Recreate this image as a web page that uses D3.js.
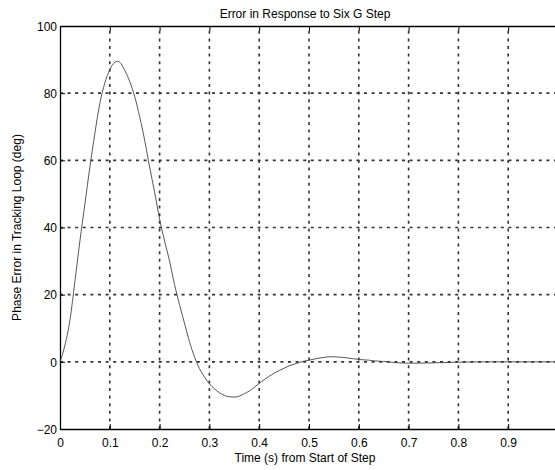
<!DOCTYPE html>
<html>
<head>
<meta charset="utf-8">
<script src="https://cdn.jsdelivr.net/npm/d3@7"></script>
<style>
html,body{margin:0;padding:0;background:#fff;}
svg{display:block;}
text{font-family:"Liberation Sans",Arial,sans-serif;fill:#000;}
</style>
</head>
<body>
<svg id="chart" width="555" height="470"></svg>
<script>
const title = "Error in Response to Six G Step";
const xLabel = "Time (s) from Start of Step";
const yLabel = "Phase Error in Tracking Loop (deg)";
const xTicks = [0, 0.1, 0.2, 0.3, 0.4, 0.5, 0.6, 0.7, 0.8, 0.9];
const yTicks = [-20, 0, 20, 40, 60, 80, 100];
const timeS = [0,0.01,0.02,0.03,0.04,0.05,0.06,0.07,0.08,0.09,0.10,0.11,0.115,0.12,0.13,0.14,0.15,0.16,0.17,0.18,0.19,0.20,0.21,0.22,0.23,0.24,0.25,0.26,0.27,0.28,0.29,0.30,0.31,0.32,0.33,0.34,0.35,0.36,0.37,0.38,0.39,0.40,0.41,0.42,0.43,0.44,0.45,0.46,0.47,0.48,0.49,0.50,0.51,0.52,0.53,0.54,0.55,0.56,0.57,0.58,0.59,0.60,0.61,0.62,0.63,0.64,0.65,0.66,0.67,0.68,0.70,0.72,0.75,0.80,0.85,0.90,0.95,1.00];
const errorDeg = [0,5,12.5,24,36,47,58,68,77,83,87,89.2,89.5,89.2,86.8,83.5,79,73,66,58,50.5,42.5,36,30,23,17,11.5,6,1.5,-2,-4.5,-6.5,-8,-9.2,-10,-10.4,-10.5,-10.2,-9.5,-8.7,-7.6,-6.4,-5.3,-4.3,-3.4,-2.6,-1.9,-1.2,-0.7,-0.2,0.2,0.5,0.8,1.1,1.3,1.5,1.5,1.4,1.3,1.1,0.9,0.7,0.6,0.5,0.3,0.2,0.1,0,-0.2,-0.3,-0.4,-0.4,-0.3,-0.1,0,0,0,0];

const svg = d3.select("#chart");
const L = 60, R = 558, T = 26, B = 429;
const x = d3.scaleLinear().domain([0, 1]).range([L, R]);
const y = d3.scaleLinear().domain([-20, 100]).range([B, T]);

// grid
const grid = svg.append("g").attr("stroke", "#333").attr("stroke-width", 1.6).attr("stroke-dasharray", "3,4.6");
grid.selectAll("line.vx").data(xTicks.filter(d => d > 0)).enter().append("line")
  .attr("x1", d => x(d)).attr("x2", d => x(d)).attr("y1", B).attr("y2", T);
grid.selectAll("line.hy").data(yTicks.filter(d => d > -20 && d < 100)).enter().append("line")
  .attr("y1", d => y(d)).attr("y2", d => y(d)).attr("x1", L).attr("x2", R);

// axes
const xAxis = d3.axisBottom(x).tickValues(xTicks).tickSizeInner(-5).tickSizeOuter(0).tickPadding(9).tickFormat(d3.format("~g"));
const gx = svg.append("g").attr("transform", `translate(0,${B})`).call(xAxis);
const xTop = d3.axisTop(x).tickValues(xTicks).tickSizeInner(-5).tickSizeOuter(0).tickFormat("");
const gxt = svg.append("g").attr("transform", `translate(0,${T})`).call(xTop);
const yAxis = d3.axisLeft(y).tickValues(yTicks).tickSizeInner(-5).tickSizeOuter(0).tickPadding(3);
const gy = svg.append("g").attr("transform", `translate(${L},0)`).call(yAxis);
[gx, gxt, gy].forEach(g => {
  g.select(".domain").attr("stroke", "#000").attr("stroke-width", 1.3);
  g.selectAll(".tick line").attr("stroke", "#000").attr("stroke-width", 1);
  g.selectAll("text").attr("font-size", 12).attr("font-family", "'Liberation Sans',Arial,sans-serif").attr("fill", "#000");
});
gx.selectAll("text").attr("dy", "0.71em");
gy.selectAll("text").attr("dy", "0.35em");

// curve
const line = d3.line().x((d, i) => x(timeS[i])).y(d => y(d)).curve(d3.curveMonotoneX);
svg.append("path").datum(errorDeg).attr("d", line)
  .attr("fill", "none").attr("stroke", "#444").attr("stroke-width", 0.9);

// labels
svg.append("text").attr("x", 305).attr("y", 18).attr("text-anchor", "middle").attr("font-size", 12).text(title);
svg.append("text").attr("x", 305).attr("y", 462).attr("text-anchor", "middle").attr("font-size", 12).text(xLabel);
svg.append("text").attr("transform", `translate(21,${(T + B) / 2}) rotate(-90)`).attr("text-anchor", "middle").attr("font-size", 12).text(yLabel);
</script>
</body>
</html>
